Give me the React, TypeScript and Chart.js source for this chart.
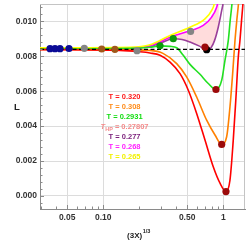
import React, { useEffect, useRef } from "react";
import { Chart, registerables } from "chart.js";

Chart.register(...registerables);

// ---- axis data ----
const xRange = [0.0297, 1.517];
const yRange = [-0.00075, 0.011];
const xTickValues = [0.05, 0.1, 0.5, 1];
const xTickLabels = ["0.05", "0.10", "0.50", "1"];
const yTickValues = [0, 0.002, 0.004, 0.006, 0.008, 0.01];
const yTickLabels = ["0.000", "0.002", "0.004", "0.006", "0.008", "0.010"];
const xMinorTicks = [0.03, 0.04, 0.06, 0.07, 0.08, 0.09, 0.2, 0.3, 0.4, 0.6, 0.7, 0.8, 0.9];
const yMinorStep = 0.0004;
const refLevel = 0.0084;

// ---- curves ----
const redX = [0.0297, 0.1377, 0.202, 0.245, 0.297, 0.36, 0.436, 0.511, 0.6, 0.704, 0.825, 0.939, 1.053, 1.137, 1.211, 1.276, 1.334, 1.377, 1.42, 1.459, 1.473];
const redY = [0.00838, 0.00834, 0.00826, 0.00819, 0.00806, 0.00767, 0.00701, 0.00606, 0.00473, 0.0032, 0.00167, 0.00073, 0.00025, 0.00091, 0.0032, 0.00567, 0.00796, 0.00891, 0.01006, 0.01103, 0.0115];
const orangeX = [0.0297, 0.167, 0.245, 0.3145, 0.409, 0.495, 0.6, 0.727, 0.853, 0.97, 1.067, 1.137, 1.197, 1.252, 1.296, 1.339, 1.354];
const orangeY = [0.0084, 0.00837, 0.00834, 0.00817, 0.00758, 0.00682, 0.00567, 0.00434, 0.00349, 0.00295, 0.00339, 0.0051, 0.00701, 0.00891, 0.01006, 0.01103, 0.0115];
const greenX = [0.0297, 0.167, 0.245, 0.297, 0.36, 0.409, 0.464, 0.528, 0.64, 0.746, 0.869, 0.97, 1.033, 1.101, 1.142, 1.182, 1.196];
const greenY = [0.00843, 0.00846, 0.00852, 0.0086, 0.00857, 0.00849, 0.00806, 0.00754, 0.00697, 0.00646, 0.0061, 0.00663, 0.00777, 0.00891, 0.01006, 0.01103, 0.0115];
const purpleX = [0.0297, 0.167, 0.245, 0.308, 0.383, 0.453, 0.528, 0.627, 0.727, 0.79, 0.845, 0.908, 0.97, 1.004, 1.013];
const purpleY = [0.00844, 0.00847, 0.00856, 0.0088, 0.00901, 0.00897, 0.00882, 0.0086, 0.00838, 0.00849, 0.0089, 0.00967, 0.01063, 0.0112, 0.0115];
const magentaX = [0.0297, 0.167, 0.245, 0.36, 0.528, 0.681, 0.8, 0.881, 0.908, 0.917];
const magentaY = [0.00846, 0.00849, 0.0086, 0.0091, 0.00946, 0.00977, 0.01025, 0.01082, 0.0112, 0.0115];
const yellowX = [0.0297, 0.167, 0.245, 0.36, 0.528, 0.704, 0.8, 0.853, 0.862];
const yellowY = [0.00849, 0.00852, 0.00866, 0.0092, 0.00967, 0.01015, 0.01063, 0.0112, 0.0115];

// ---- marked points ----
const navyX = [0.036, 0.0396, 0.0436, 0.0518];
const navyY = [0.00844, 0.00844, 0.00844, 0.00845];
const grayX = [0.0695, 0.191, 0.534];
const grayY = [0.00846, 0.00832, 0.00943];
const brownX = [0.097, 0.125];
const brownY = [0.00842, 0.0084];
const greenDotX = [0.297, 0.383];
const greenDotY = [0.0086, 0.00901];
const darkRedX = [0.704, 0.869, 0.97, 1.053];
const darkRedY = [0.00853, 0.0061, 0.00295, 0.00025];
const blackX = [0.727];
const blackY = [0.00838];

// ---- annotations ----
const legendTexts = ["T = 0.320", "T = 0.308", "T = 0.2931", "HP", "T = 0.277", "T = 0.268", "T = 0.265"];
const legendColors = ["#ff1a1a", "#ff8c1a", "#11dd11", "#f48a8a", "#7a1f7a", "#ff22ff", "#f2f200"];
const thpValue = " = 0.27807";

const FONT = "'Liberation Sans', Arial, sans-serif";

const pts = (xs: number[], ys: number[]) => xs.map((x, i) => ({ x, y: ys[i] }));

const curve = (label: string, xs: number[], ys: number[], color: string, order: number, extra: any = {}) => ({
  label,
  data: pts(xs, ys),
  borderColor: color,
  backgroundColor: color,
  borderWidth: 1.6,
  pointRadius: 0,
  showLine: true,
  cubicInterpolationMode: "monotone",
  clip: 0,
  order,
  ...extra,
});

const dots = (label: string, xs: number[], ys: number[], color: string) => ({
  label,
  data: pts(xs, ys),
  showLine: false,
  pointRadius: 3.6,
  pointBackgroundColor: color,
  pointBorderColor: color,
  pointBorderWidth: 0,
  backgroundColor: color,
  borderColor: color,
  order: 0,
});

const decor = {
  id: "decor",
  beforeDatasetsDraw(chart: any) {
    const { ctx, chartArea: a } = chart;
    ctx.save();
    ctx.strokeStyle = "#c4c4c4";
    ctx.lineWidth = 1;
    ctx.beginPath();
    ctx.moveTo(a.left, a.top + 0.5);
    ctx.lineTo(a.right - 0.5, a.top + 0.5);
    ctx.lineTo(a.right - 0.5, a.bottom);
    ctx.stroke();
    ctx.restore();
  },
  afterDatasetsDraw(chart: any) {
    const { ctx, chartArea: a, scales } = chart;
    const xs = scales.x;
    const ys = scales.y;
    ctx.save();
    // inward tick marks
    ctx.strokeStyle = "#8a8a8a";
    ctx.lineWidth = 1;
    ctx.beginPath();
    xTickValues.forEach((v) => {
      const px = Math.round(xs.getPixelForValue(v)) + 0.5;
      ctx.moveTo(px, a.bottom);
      ctx.lineTo(px, a.bottom - 4);
    });
    xMinorTicks.forEach((v) => {
      const px = Math.round(xs.getPixelForValue(v)) + 0.5;
      ctx.moveTo(px, a.bottom);
      ctx.lineTo(px, a.bottom - 2.5);
    });
    const nMin = Math.ceil(yRange[0] / yMinorStep);
    const nMax = Math.floor(yRange[1] / yMinorStep);
    for (let n = nMin; n <= nMax; n++) {
      const v = n * yMinorStep;
      const py = Math.round(ys.getPixelForValue(v)) + 0.5;
      const major = n % 5 === 0;
      ctx.moveTo(a.left, py);
      ctx.lineTo(a.left + (major ? 4 : 2.5), py);
    }
    ctx.stroke();

    // curve labels
    const cx = xs.getPixelForValue(0.1504);
    const y0 = ys.getPixelForValue(0.005656);
    ctx.textBaseline = "middle";
    legendTexts.forEach((t, i) => {
      const y = y0 + i * 10;
      ctx.fillStyle = legendColors[i];
      if (t === "HP") {
        ctx.font = `bold 7.5px ${FONT}`;
        const wT = ctx.measureText("T").width;
        const wV = ctx.measureText(thpValue).width;
        ctx.font = `bold 5.5px ${FONT}`;
        const wS = ctx.measureText("HP").width;
        const total = wT + wS + wV;
        let x = cx - total / 2;
        ctx.textAlign = "left";
        ctx.font = `italic bold 7.5px ${FONT}`;
        ctx.fillText("T", x, y);
        x += wT;
        ctx.font = `bold 5.5px ${FONT}`;
        ctx.fillText("HP", x, y + 2);
        x += wS;
        ctx.font = `bold 7.5px ${FONT}`;
        ctx.fillText(thpValue, x, y);
      } else {
        ctx.font = `bold 7.5px ${FONT}`;
        ctx.textAlign = "center";
        ctx.fillText(t, cx, y);
      }
    });

    // axis titles
    ctx.fillStyle = "#222";
    ctx.textAlign = "center";
    ctx.font = `bold 9.5px ${FONT}`;
    ctx.fillText("L", 17, 107);

    ctx.textAlign = "left";
    ctx.textBaseline = "alphabetic";
    ctx.font = `bold 8px ${FONT}`;
    const base = "(3X)";
    const wb = ctx.measureText(base).width;
    ctx.font = `bold 5.5px ${FONT}`;
    const wsup = ctx.measureText("1/3").width;
    const startX = (a.left + a.right) / 2 - 4 - (wb + wsup) / 2;
    ctx.font = `bold 8px ${FONT}`;
    ctx.fillText(base, startX, 237.5);
    ctx.font = `bold 5.5px ${FONT}`;
    ctx.fillText("1/3", startX + wb + 0.5, 233);
    ctx.restore();
  },
};

export default function App() {
  const ref = useRef<HTMLCanvasElement | null>(null);

  useEffect(() => {
    if (!ref.current) return;
    const chart = new Chart(ref.current, {
      type: "scatter",
      data: {
        datasets: [
          dots("navy", navyX, navyY, "#0b0b96"),
          dots("gray", grayX, grayY, "#858585"),
          dots("brown", brownX, brownY, "#a0581a"),
          dots("green dots", greenDotX, greenDotY, "#0b990b"),
          dots("dark red", darkRedX, darkRedY, "#9c0a0a"),
          dots("black", blackX, blackY, "#000000"),
          {
            label: "ref",
            data: pts(xRange, [refLevel, refLevel]),
            showLine: true,
            borderColor: "#000",
            borderWidth: 1.4,
            borderDash: [4, 2.5],
            pointRadius: 0,
            clip: 0,
            order: 1,
          },
          curve("T = 0.320", redX, redY, "#ff0000", 2),
          curve("T = 0.308", orangeX, orangeY, "#ff8000", 3),
          curve("T = 0.2931", greenX, greenY, "#22e022", 4),
          curve("T = 0.268", magentaX, magentaY, "#ff00ff", 6),
          curve("T = 0.277", purpleX, purpleY, "#9a3f9a", 7, {
            fill: { target: 10 },
            backgroundColor: "rgba(255, 205, 205, 0.7)",
          }),
          curve("T = 0.265", yellowX, yellowY, "#ffff00", 5),
        ],
      },
      options: {
        animation: false,
        responsive: false,
        events: [],
        layout: { padding: { left: 0, top: 3, right: 5, bottom: 0 } },
        plugins: {
          legend: { display: false },
          tooltip: { enabled: false },
        },
        scales: {
          x: {
            type: "logarithmic",
            min: xRange[0],
            max: xRange[1],
            bounds: "data",
            afterBuildTicks: (s: any) => {
              s.ticks = xTickValues.map((v) => ({ value: v }));
            },
            afterFit: (s: any) => {
              s.height = 32;
              s.paddingLeft = 0;
              s.paddingRight = 0;
            },
            ticks: {
              autoSkip: false,
              maxRotation: 0,
              padding: 4,
              color: "#333",
              font: { family: FONT, size: 8.5, weight: "bold" },
              callback: (v: any) => {
                const i = xTickValues.indexOf(Number(v));
                return i >= 0 ? xTickLabels[i] : "";
              },
            },
            grid: { color: "#dcdcdc", lineWidth: 1, drawTicks: false },
            border: { display: true, color: "#8a8a8a", width: 1 },
          },
          y: {
            type: "linear",
            min: yRange[0],
            max: yRange[1],
            afterBuildTicks: (s: any) => {
              s.ticks = yTickValues.map((v) => ({ value: v }));
            },
            afterFit: (s: any) => {
              s.width = 40;
              s.paddingTop = 0;
              s.paddingBottom = 0;
            },
            ticks: {
              autoSkip: false,
              padding: 3,
              color: "#333",
              font: { family: FONT, size: 8.5, weight: "bold" },
              callback: (v: any) => {
                const i = yTickValues.findIndex((t) => Math.abs(t - Number(v)) < 1e-9);
                return i >= 0 ? yTickLabels[i] : "";
              },
            },
            grid: { color: "#dcdcdc", lineWidth: 1, drawTicks: false },
            border: { display: true, color: "#8a8a8a", width: 1 },
          },
        },
      },
      plugins: [decor],
    } as any);
    return () => chart.destroy();
  }, []);

  return (
    <div style={{ position: "absolute", left: 0, top: 0, width: 250, height: 241, background: "#fff" }}>
      <canvas ref={ref} width={250} height={241} style={{ display: "block" }} />
    </div>
  );
}
